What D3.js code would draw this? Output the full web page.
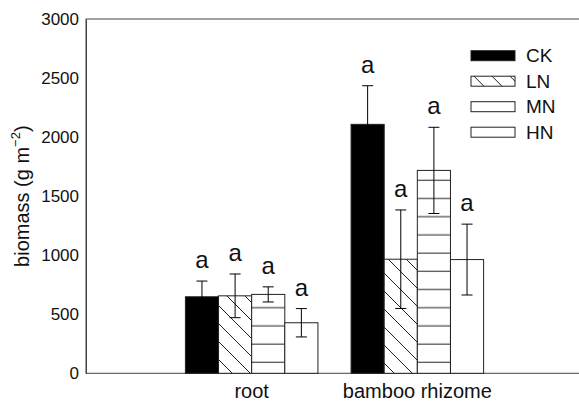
<!DOCTYPE html>
<html>
<head>
<meta charset="utf-8">
<script src="https://cdn.jsdelivr.net/npm/d3@7"></script>
<style>
  body { margin: 0; background: #fff; }
  svg { display: block; font-family: Arial, "Liberation Sans", sans-serif; }
</style>
</head>
<body>
<script>
// data
const categories = ["root", "bamboo rhizome"];
const series = ["CK", "LN", "MN", "HN"];
const CK = [648, 2108];
const LN = [656, 966];
const MN = [668, 1718];
const HN = [428, 963];
const errCK = [133, 327];
const errLN = [185, 417];
const errMN = [64, 365];
const errHN = [120, 300];
const letters = ["a", "a", "a", "a"];
const yTicks = [0, 500, 1000, 1500, 2000, 2500, 3000];

const means = { CK, LN, MN, HN };
const errs = { CK: errCK, LN: errLN, MN: errMN, HN: errHN };

let rows = [];
categories.forEach((c, i) => {
    series.forEach((s, j) => {
        rows.push({ cat: c, ser: s, v: means[s][i], e: errs[s][i], lab: letters[j] });
    });
});

const W = 579, H = 403;
const pLeft = 86, pRight = 583, pTop = 19, pBottom = 373.3;

const svg = d3.select('body')
    .append('svg')
    .attr('width', W)
    .attr('height', H);

const defs = svg.append('defs');

// diagonal hatch for LN
const pLN = defs.append('pattern')
    .attr('id', 'hatchLN')
    .attr('patternUnits', 'userSpaceOnUse')
    .attr('width', 18).attr('height', 18)
    .attr('y', 15);
pLN.append('rect').attr('width', 18).attr('height', 18).attr('fill', '#fff');
pLN.append('path')
    .attr('d', 'M-2,-2 L20,20 M-20,-2 L2,20 M16,-2 L38,20')
    .attr('stroke', '#222').attr('stroke-width', 1);

// horizontal lines for MN
const pMN = defs.append('pattern')
    .attr('id', 'hatchMN')
    .attr('patternUnits', 'userSpaceOnUse')
    .attr('width', 20).attr('height', 18.2);
pMN.append('rect').attr('width', 20).attr('height', 18.2).attr('fill', '#fff');
pMN.append('line')
    .attr('x1', 0).attr('x2', 20)
    .attr('y1', 16.5).attr('y2', 16.5)
    .attr('stroke', '#222').attr('stroke-width', 1);

const fills = { CK: '#000', LN: 'url(#hatchLN)', MN: 'url(#hatchMN)', HN: '#fff' };

const y = d3.scaleLinear().domain([0, 3000]).range([pBottom, pTop]);
const x0 = d3.scaleBand().domain(categories).range([pLeft, pRight])
    .paddingInner(0).paddingOuter(0.5);
const x1 = d3.scaleBand().domain(series).range([0, x0.bandwidth()])
    .paddingInner(0).paddingOuter(0.5);

// frame
svg.append('rect')
    .attr('x', pLeft).attr('y', pTop)
    .attr('width', pRight - pLeft).attr('height', pBottom - pTop)
    .attr('fill', 'none')
    .attr('stroke', '#444');

// y axis
const yAxis = svg.append('g')
    .attr('transform', `translate(${pLeft},0)`)
    .call(d3.axisLeft(y).tickValues(yTicks).tickFormat(d3.format('d')).tickSize(0).tickPadding(7));
yAxis.select('.domain').attr('stroke', '#444');
yAxis.selectAll('text')
    .attr('font-size', 17)
    .attr('fill', '#111')
    .attr('font-family', 'Arial, "Liberation Sans", sans-serif');

// x axis
const xAxis = svg.append('g')
    .attr('transform', `translate(0,${pBottom})`)
    .call(d3.axisBottom(x0).tickSize(0).tickPadding(11));
xAxis.select('.domain').remove();
xAxis.selectAll('text')
    .attr('font-size', 20)
    .attr('fill', '#111')
    .attr('font-family', 'Arial, "Liberation Sans", sans-serif');

// bars
const bx = d => x0(d.cat) + x1(d.ser);
svg.append('g')
    .selectAll('rect')
    .data(rows)
    .enter()
    .append('rect')
    .attr('x', bx)
    .attr('y', d => y(d.v))
    .attr('width', x1.bandwidth())
    .attr('height', d => y(0) - y(d.v))
    .attr('fill', d => fills[d.ser])
    .attr('stroke', '#222')
    .attr('stroke-width', 1);

// error bars
const eb = svg.append('g')
    .selectAll('g')
    .data(rows)
    .enter()
    .append('g')
    .attr('stroke', '#000')
    .attr('stroke-width', 1);
const cx = d => bx(d) + x1.bandwidth() / 2;
eb.append('line')
    .attr('x1', cx).attr('x2', cx)
    .attr('y1', d => y(d.v + d.e)).attr('y2', d => y(d.v - d.e));
eb.append('line')
    .attr('x1', d => cx(d) - 5.5).attr('x2', d => cx(d) + 5.5)
    .attr('y1', d => y(d.v + d.e)).attr('y2', d => y(d.v + d.e));
eb.append('line')
    .attr('x1', d => cx(d) - 5.5).attr('x2', d => cx(d) + 5.5)
    .attr('y1', d => y(d.v - d.e)).attr('y2', d => y(d.v - d.e));

// significance letters
svg.append('g')
    .selectAll('text')
    .data(rows)
    .enter()
    .append('text')
    .attr('x', cx)
    .attr('y', d => y(d.v + d.e) - 13)
    .attr('text-anchor', 'middle')
    .attr('font-size', 24)
    .attr('fill', '#111')
    .text(d => d.lab);

// y label
const yl = svg.append('text')
    .attr('transform', `translate(29,${(pTop + pBottom) / 2}) rotate(-90)`)
    .attr('text-anchor', 'middle')
    .attr('font-size', 20)
    .attr('fill', '#111');
yl.append('tspan').text('biomass (g m');
yl.append('tspan').text('\u22122').attr('font-size', 13).attr('dy', -9);
yl.append('tspan').text(')').attr('dy', 9);

// legend
const leg = svg.append('g')
    .selectAll('g')
    .data(series)
    .enter()
    .append('g')
    .attr('transform', (d, i) => `translate(471,${50.7 + i * 25.5})`);
leg.append('rect')
    .attr('width', 44).attr('height', 10)
    .attr('fill', d => fills[d])
    .attr('stroke', '#222');
leg.append('text')
    .attr('x', 55).attr('y', 11.5)
    .attr('font-size', 19)
    .attr('fill', '#111')
    .text(d => d);
</script>
</body>
</html>
